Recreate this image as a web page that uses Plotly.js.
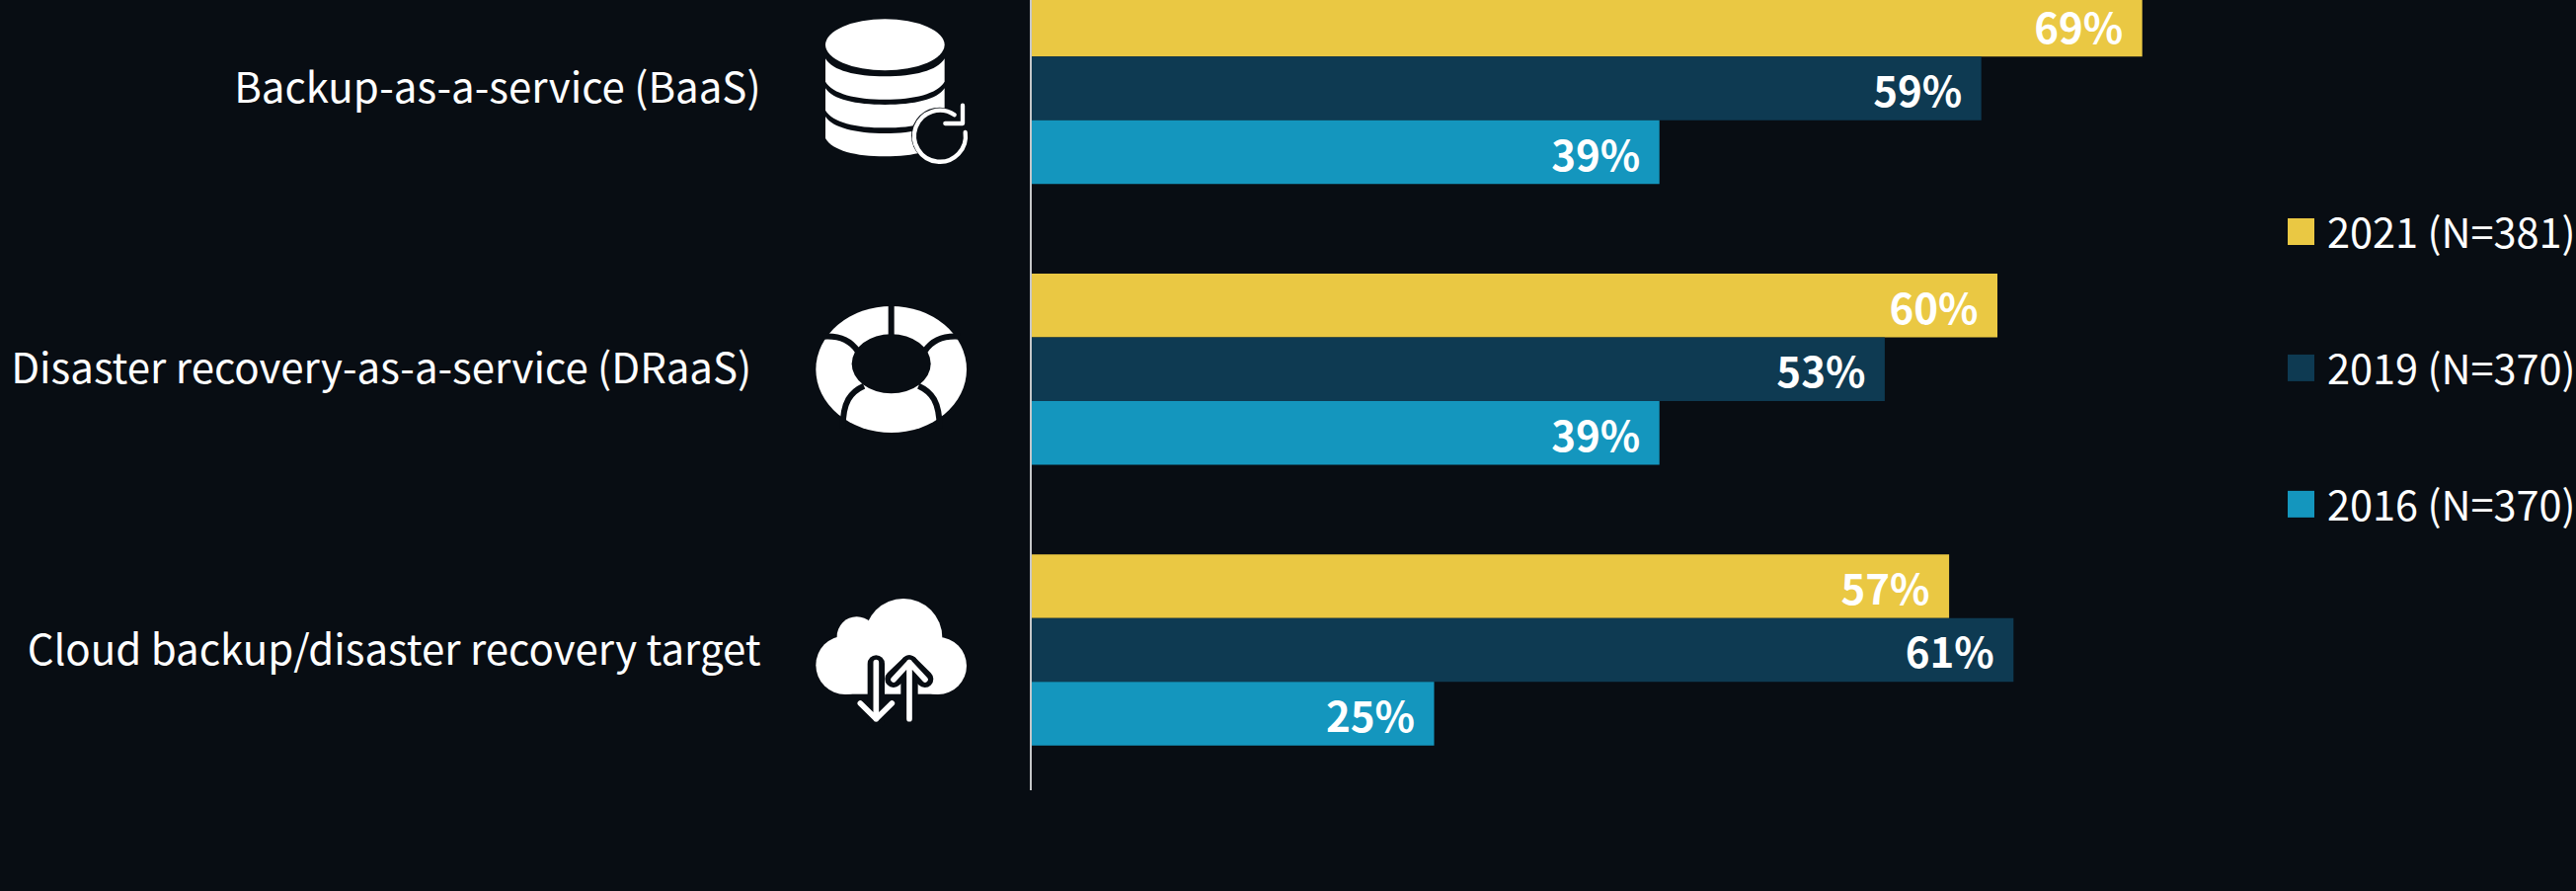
<!DOCTYPE html>
<html><head><meta charset="utf-8">
<script src="https://cdn.plot.ly/plotly-3.0.1.min.js"></script>
<style>html,body{margin:0;padding:0;background:#080D13;overflow:hidden}</style>
</head><body><div id="chart" style="width:2609px;height:902px"></div>
<script>
const categories = ["Backup-as-a-service (BaaS)", "Disaster recovery-as-a-service (DRaaS)", "Cloud backup/disaster recovery target"];
const tickLabels = ["Backup-as-a-service (BaaS)", "Disaster recovery-as-a-service (DRaaS)\u00A0", "Cloud backup/disaster recovery target"];
const seriesNames = ["2021 (N=381)", "2019 (N=370)", "2016 (N=370)"];
const values2021 = [69, 60, 57];
const values2019 = [59, 53, 61];
const values2016 = [39, 39, 25];
const seriesColors = ["#EAC843", "#0E3A52", "#1496BE"];

const W = 2609, H = 902, L = 1045, R = 2209, PH = 800;
const FONT = '"Noto Sans CJK SC","Noto Sans",sans-serif';
const BG = "#080D13";

const seriesValues = [values2021, values2019, values2016];
const traces = seriesNames.map((n, i) => ({
  type: "bar", orientation: "h", name: n, legendgroup: n,
  y: categories, x: seriesValues[i],
  marker: {color: seriesColors[i]},
  texttemplate: "%{x}%\u00A0\u2006", textposition: "inside", insidetextanchor: "end",
  textangle: 0, constraintext: "none",
  insidetextfont: {family: FONT, size: 42, color: "#FFFFFF", weight: 700},
  hoverinfo: "skip"
}));

const svg = (vb, body) => "data:image/svg+xml;base64," + btoa(
  `<svg xmlns="http://www.w3.org/2000/svg" viewBox="0 0 ${vb}">${body}</svg>`);

const iconDb = svg("900 600", `<g fill="#fff">
<ellipse cx="289" cy="136" rx="181" ry="78"/>
<path d="M108,178C130,215 200,232 289,232C378,232 448,215 470,178L470,248C448,285 378,302 289,302C200,302 130,285 108,248Z"/>
<path d="M108,268C130,302 200,318 289,318C378,318 448,302 470,268L470,335C448,372 378,388 289,388C200,388 130,372 108,335Z"/>
<path d="M108,354C130,388 200,405 289,405C378,405 448,388 470,354L470,420C448,458 378,475 289,475C200,475 130,458 108,420Z"/>
</g>
<circle cx="455" cy="412" r="86" fill="${BG}"/>
<path d="M533,402A78,78 0 1 1 500,349" fill="none" stroke="#fff" stroke-width="13" stroke-linecap="round"/>
<path d="M525,320L525,375L472,375" fill="none" stroke="#fff" stroke-width="13" stroke-linecap="round" stroke-linejoin="round"/>`);

const iconBuoy = svg("900 600", `<ellipse cx="308" cy="222" rx="229" ry="192" fill="#fff"/>
<ellipse cx="308" cy="205" rx="120" ry="90" fill="${BG}"/>
<g fill="none" stroke="${BG}" stroke-width="18">
<path d="M308,20L308,120"/>
<path d="M100,122C150,118 185,135 205,165"/>
<path d="M516,122C466,118 431,135 411,165"/>
<path d="M225,272C185,290 160,320 161,400"/>
<path d="M391,272C431,290 455,320 455,400"/>
</g>`);

const iconCloud = svg("900 720", `<g fill="#fff">
<circle cx="345" cy="196" r="118"/><circle cx="203" cy="193" r="60"/>
<circle cx="168" cy="280" r="89"/><circle cx="450" cy="282" r="87"/>
<rect x="168" y="250" width="282" height="118"/></g>
<g fill="none" stroke="${BG}" stroke-width="52" stroke-linecap="round" stroke-linejoin="round">
<path d="M262,276L262,445"/><path d="M363,276L363,445"/><path d="M315,322L363,276L410,322"/></g>
<g fill="none" stroke="#fff" stroke-width="17" stroke-linecap="round" stroke-linejoin="round">
<path d="M262,272L262,443M214,396L262,443L310,396"/>
<path d="M363,443L363,272M315,324L363,272L411,324"/></g>`);

const PW = R - L;
const icon = (src, x, y, w, h) => ({
  source: src, xref: "paper", yref: "paper",
  x: (x - L) / PW, y: 1 - y / PH, sizex: w / PW, sizey: h / PH,
  xanchor: "left", yanchor: "top", sizing: "stretch", layer: "above"
});

const layout = {
  width: W, height: H, paper_bgcolor: BG, plot_bgcolor: BG,
  margin: {l: L, r: W - R, t: 0, b: H - PH, pad: 0, autoexpand: false},
  barmode: "group", bargap: 0.319, bargroupgap: 0,
  font: {family: FONT, color: "#FFFFFF", size: 42},
  xaxis: {visible: false, range: [0, PW / 16.3], fixedrange: true},
  yaxis: {
    type: "category", categoryorder: "array", categoryarray: categories,
    range: [2.5, -0.315], tickmode: "array", tickvals: categories, ticktext: tickLabels,
    ticks: "", ticklabelstandoff: 264, showgrid: false, zeroline: false,
    showline: true, linecolor: "#C4C6C8", linewidth: 2,
    tickfont: {family: FONT, size: 42, color: "#FFFFFF"}, fixedrange: true
  },
  showlegend: true,
  legend: {
    x: (2304 - L) / PW, xanchor: "left", y: 1 - 201 / PH, yanchor: "top",
    traceorder: "grouped", tracegroupgap: 81, itemwidth: 43, itemclick: false, itemdoubleclick: false,
    font: {family: FONT, size: 41.5, color: "#FFFFFF"}, bgcolor: "rgba(0,0,0,0)", borderwidth: 0
  },
  images: [
    icon(iconDb, 800, 0, 300, 200),
    icon(iconBuoy, 800, 300, 300, 200),
    icon(iconCloud, 800, 580, 300, 240)
  ]
};

Plotly.newPlot("chart", traces, layout, {displayModeBar: false, staticPlot: false}).then(() => {
  document.querySelectorAll(".legend .legendpoints path").forEach(p => {
    const t = p.getAttribute("transform") || "";
    p.setAttribute("transform", t + " scale(2.25)");
  });
});
</script></body></html>
